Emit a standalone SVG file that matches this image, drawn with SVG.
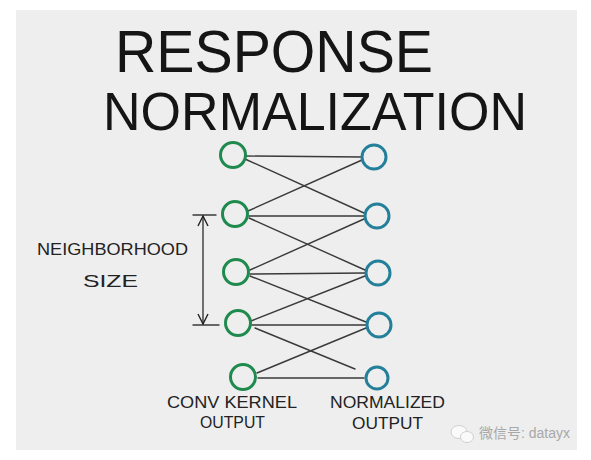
<svg xmlns="http://www.w3.org/2000/svg" width="591" height="460" viewBox="0 0 591 460">
<defs>
<style>
.title{font-family:"Liberation Sans",Arial,sans-serif;fill:#151515;font-weight:normal}
.lbl{font-family:"Liberation Sans",Arial,sans-serif;fill:#222;font-size:17px}
.in{fill:none;stroke:#1f8a4e;stroke-width:3}
.out{fill:none;stroke:#24809a;stroke-width:3}
.edge{stroke:#3a3a3a;stroke-width:1.4;fill:none;stroke-linecap:round}
.wm{font-family:"Liberation Sans","Noto Sans CJK SC",sans-serif;fill:#a8a8a8;font-size:14px}
</style>
<marker id="vh" viewBox="0 0 12 12" refX="11" refY="6" markerWidth="12" markerHeight="12" markerUnits="userSpaceOnUse" orient="auto-start-reverse">
<path d="M1,1 L11,6 L1,11" fill="none" stroke="#222" stroke-width="1.4"/>
</marker>
</defs>
<rect x="0" y="0" width="591" height="460" fill="#ffffff"/>
<rect x="16" y="10" width="561" height="440" fill="#eeeeee"/>
<g id="title">
<text class="title" x="115" y="72" font-size="60" textLength="318" lengthAdjust="spacingAndGlyphs">RESPONSE</text>
<text class="title" x="103" y="130" font-size="53" textLength="424" lengthAdjust="spacingAndGlyphs">NORMALIZATION</text>
</g>
<g id="connectors">
<line class="edge" x1="246" y1="156" x2="362" y2="157"/>
<line class="edge" x1="245" y1="159" x2="364" y2="213"/>
<line class="edge" x1="248" y1="211" x2="362" y2="160"/>
<line class="edge" x1="249" y1="216" x2="364" y2="216"/>
<line class="edge" x1="249" y1="218" x2="365" y2="270"/>
<line class="edge" x1="250" y1="270" x2="364" y2="219"/>
<line class="edge" x1="250" y1="274" x2="365" y2="273"/>
<line class="edge" x1="250" y1="276" x2="366" y2="322"/>
<line class="edge" x1="251" y1="321" x2="365" y2="276"/>
<line class="edge" x1="252" y1="325" x2="366" y2="325"/>
<line class="edge" x1="255" y1="328" x2="355" y2="369"/>
<line class="edge" x1="257" y1="373" x2="366" y2="328"/>
<line class="edge" x1="258" y1="378" x2="364" y2="378"/>
</g>
<g id="bracket">
<line class="edge" x1="193" y1="215" x2="216" y2="215"/>
<line class="edge" x1="193" y1="325" x2="219" y2="325"/>
<line class="edge" x1="203" y1="216" x2="203" y2="324" marker-start="url(#vh)" marker-end="url(#vh)"/>
</g>
<g id="in1"><circle class="in" cx="233" cy="155" r="12.5"/></g>
<g id="in2"><circle class="in" cx="235" cy="214" r="12.5"/></g>
<g id="in3"><circle class="in" cx="236" cy="272" r="12.5"/></g>
<g id="in4"><circle class="in" cx="238" cy="323" r="12.5"/></g>
<g id="in5"><circle class="in" cx="243" cy="377" r="12.5"/></g>
<g id="out1"><circle class="out" cx="374" cy="157" r="12"/></g>
<g id="out2"><circle class="out" cx="377" cy="216" r="12"/></g>
<g id="out3"><circle class="out" cx="378" cy="273" r="12"/></g>
<g id="out4"><circle class="out" cx="379" cy="325" r="12"/></g>
<g id="out5"><circle class="out" cx="377" cy="378" r="11"/></g>
<g id="labels">
<text class="lbl" x="37" y="255" textLength="151" lengthAdjust="spacingAndGlyphs">NEIGHBORHOOD</text>
<text class="lbl" x="83" y="287" textLength="55" lengthAdjust="spacingAndGlyphs">SIZE</text>
<text class="lbl" x="167" y="408" textLength="130" lengthAdjust="spacingAndGlyphs">CONV KERNEL</text>
<text class="lbl" x="200" y="428" textLength="65" lengthAdjust="spacingAndGlyphs">OUTPUT</text>
<text class="lbl" x="330" y="408" textLength="115" lengthAdjust="spacingAndGlyphs">NORMALIZED</text>
<text class="lbl" x="352" y="429" textLength="71" lengthAdjust="spacingAndGlyphs">OUTPUT</text>
</g>
<g id="watermark">
<ellipse cx="459" cy="432" rx="8" ry="6.5" fill="#fafafa" stroke="#d0d0d0" stroke-width="1"/>
<ellipse cx="467" cy="437" rx="6.5" ry="5.5" fill="#fafafa" stroke="#d0d0d0" stroke-width="1"/>
<text class="wm" x="479" y="438">微信号: datayx</text>
</g>
</svg>
